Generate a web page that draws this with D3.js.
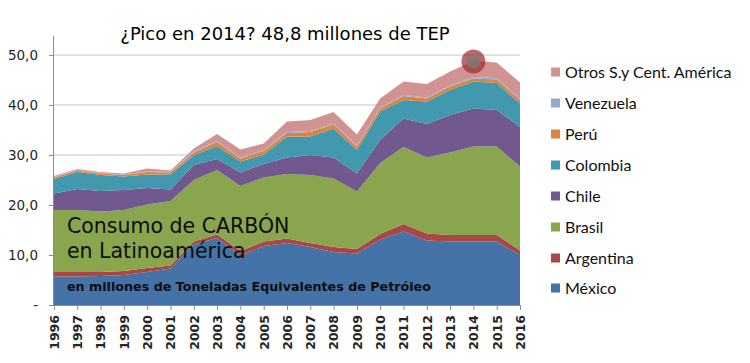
<!DOCTYPE html>
<html>
<head>
<meta charset="utf-8">
<script src="https://cdn.jsdelivr.net/npm/d3@7"></script>
<style>
  body { margin: 0; background: #fff; }
  svg { display: block; }
  .tick text { fill: #262626; }
</style>
</head>
<body>
<svg id="chart" width="750" height="363"></svg>
<script>
const years = [1996,1997,1998,1999,2000,2001,2002,2003,2004,2005,2006,2007,2008,2009,2010,2011,2012,2013,2014,2015,2016];

const mexico    = [5.7,5.7,5.8,6.0,6.6,7.3,12.1,13.4,9.9,11.8,12.4,11.6,10.6,10.3,13.1,14.7,12.9,12.7,12.7,12.7,10.0];
const argentina = [0.9,0.9,0.8,0.8,0.8,0.6,0.6,0.7,0.9,0.9,0.9,0.8,1.0,0.9,1.1,1.5,1.4,1.3,1.3,1.3,0.9];
const brasil    = [12.4,12.4,12.1,12.2,12.7,12.9,12.3,12.9,13.0,12.8,12.9,13.6,13.7,11.5,14.2,15.4,15.2,16.5,17.7,17.7,16.8];
const chile     = [3.3,4.2,4.1,4.0,3.3,2.3,3.0,2.2,2.7,2.7,3.3,4.0,4.2,3.6,4.6,5.7,6.7,7.5,7.6,7.3,7.9];
const colombia  = [2.9,3.4,3.2,2.7,2.7,3.0,2.0,2.6,2.2,1.9,4.2,3.7,5.8,4.7,5.7,3.7,4.5,5.0,5.4,5.4,4.7];
const peru      = [0.3,0.3,0.3,0.3,0.5,0.4,0.5,0.8,0.6,0.7,0.7,0.9,0.8,0.7,0.6,0.8,0.6,0.7,0.6,0.7,0.7];
const venezuela = [0.1,0.1,0.1,0.1,0.1,0.1,0.2,0.2,0.2,0.2,0.2,0.2,0.2,0.2,0.2,0.2,0.2,0.2,0.3,0.3,0.3];
const otros     = [0.2,0.2,0.2,0.2,0.6,0.3,0.6,1.4,1.6,1.3,2.1,2.2,2.3,2.2,1.8,2.7,2.7,2.8,3.2,3.1,3.2];

const seriesNames = ["México","Argentina","Brasil","Chile","Colombia","Perú","Venezuela","Otros S.y Cent. América"];
const seriesValues = [mexico, argentina, brasil, chile, colombia, peru, venezuela, otros];
const colors = ["#4572a7","#aa4643","#89a54e","#71588f","#4198af","#db843d","#93a9cf","#d19392"];
const yTicks = [0,10,20,30,40,50];

// table for d3.stack
const table = years.map((y, i) => {
    const row = { year: y };
    seriesNames.forEach((n, k) => row[n] = seriesValues[k][i]);
    return row;
});

const svg = d3.select("#chart");
const font = "'DejaVu Sans', Verdana, sans-serif";

const x = d3.scaleLinear().domain([1996, 2016]).range([54, 520]);
const y = d3.scaleLinear().domain([0, 53.8]).range([305, 36]);

// gridlines
svg.append("g")
    .selectAll("line")
    .data(yTicks.filter(d => d > 0))
    .enter().append("line")
    .attr("x1", x(1996)).attr("x2", x(2016))
    .attr("y1", d => y(d)).attr("y2", d => y(d))
    .attr("stroke", "#d9d9d9").attr("stroke-width", 1.3);

const stack = d3.stack().keys(seriesNames);
const layers = stack(table);

const area = d3.area()
    .x(d => x(d.data.year))
    .y0(d => y(d[0]))
    .y1(d => y(d[1]));

svg.append("g")
    .selectAll("path")
    .data(layers)
    .enter().append("path")
    .attr("d", area)
    .attr("fill", (d, i) => colors[i]);

// y axis
const yAxis = svg.append("g")
    .attr("transform", `translate(${x(1996)},0)`)
    .call(d3.axisLeft(y).tickValues(yTicks).tickSize(5).tickPadding(11)
        .tickFormat(d => d === 0 ? "-" : d3.format(".1f")(d).replace(".", ",")));
yAxis.select(".domain").attr("stroke", "#8c8c8c").attr("d", `M-0.5,${y(53.8)}V${y(0)}`);
yAxis.selectAll(".tick line").attr("stroke", "#8c8c8c");
yAxis.selectAll(".tick text").style("font-family", font).style("font-size", "13.5px");

// x axis
const xAxis = svg.append("g")
    .attr("transform", `translate(0,${y(0)})`)
    .call(d3.axisBottom(x).tickValues(years).tickSize(5).tickFormat(d3.format("d")));
xAxis.select(".domain").attr("stroke", "#8c8c8c");
xAxis.selectAll(".tick line").attr("stroke", "#8c8c8c");
xAxis.selectAll(".tick text")
    .style("font-family", font).style("font-size", "12.5px").style("font-weight", "bold")
    .attr("transform", "rotate(-90)")
    .attr("text-anchor", "end")
    .attr("x", -10).attr("y", 0).attr("dy", "0.35em");

// highlight of the 2014 peak
const peakIdx = years.indexOf(2014);
const peakVal = d3.sum(seriesValues, s => s[peakIdx]);
svg.append("circle")
    .attr("cx", x(2014)).attr("cy", y(peakVal) + 0.5).attr("r", 12)
    .attr("fill", "#9e2a2b").attr("fill-opacity", 0.7);
svg.append("circle")
    .attr("cx", x(2014)).attr("cy", y(peakVal) + 0.5).attr("r", 7)
    .attr("fill", "#7a7a7a").attr("fill-opacity", 0.8);

// title
svg.append("text")
    .attr("x", 285).attr("y", 40)
    .attr("text-anchor", "middle")
    .style("font-family", font)
    .style("font-size", "18px")
    .attr("fill", "#000")
    .text("¿Pico en 2014? 48,8 millones de TEP");

// overlay text
const overlay = svg.append("g")
    .style("font-family", font)
    .attr("fill", "#0d0d0d");
overlay.append("text").attr("x", 67).attr("y", 233).style("font-size", "20.5px").text("Consumo de CARBÓN");
overlay.append("text").attr("x", 67).attr("y", 258).style("font-size", "20.5px").text("en Latinoamérica");
overlay.append("text").attr("x", 67).attr("y", 291).style("font-size", "12.7px").style("font-weight", "bold")
    .text("en millones de Toneladas Equivalentes de Petróleo");

// legend
const legend = svg.append("g").attr("transform", "translate(551,0)");
const legendY = [288, 258, 227, 196, 165, 134, 103, 72];
const items = legend.selectAll("g")
    .data(seriesNames)
    .enter().append("g")
    .attr("transform", (d, i) => `translate(0,${legendY[i]})`);
items.append("rect")
    .attr("x", 0).attr("y", -4.5).attr("width", 9).attr("height", 9)
    .attr("fill", (d, i) => colors[i]);
items.append("text")
    .attr("x", 14).attr("y", 0).attr("dy", "0.36em")
    .style("font-family", "Lato, 'Open Sans', sans-serif")
    .style("font-size", "16px")
    .attr("fill", "#111")
    .text(d => d);
</script>
</body>
</html>
